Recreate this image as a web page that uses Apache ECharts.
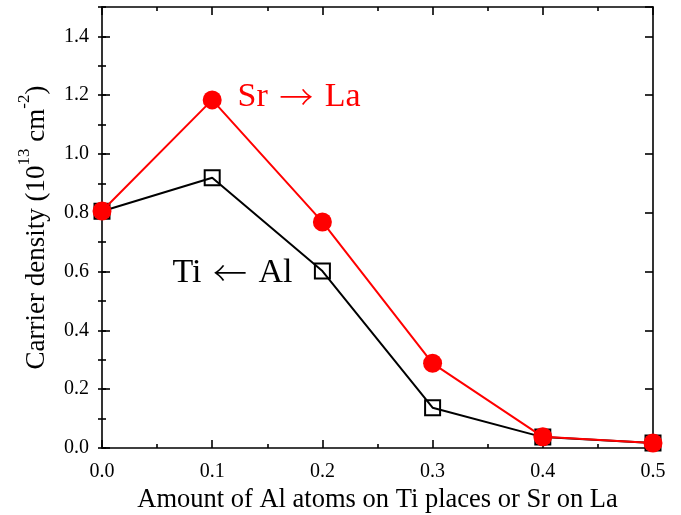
<!DOCTYPE html>
<html>
<head>
<meta charset="utf-8">
<script src="https://cdn.jsdelivr.net/npm/echarts@6/dist/echarts.min.js"></script>
<style>html,body{margin:0;padding:0;background:#fff}#c{width:681px;height:515px}</style>
</head>
<body>
<div id="c"></div>
<script>
const xValues = [0.0, 0.1, 0.2, 0.3, 0.4, 0.5];
const srLaValues = [0.806, 1.184, 0.769, 0.288, 0.038, 0.017];
const tiAlValues = [0.805, 0.919, 0.602, 0.137, 0.037, 0.017];
const srLaParts = ['Sr', '\u2192', 'La'];
const tiAlParts = ['Ti', '\u2190', 'Al'];
const srLaLabelAt = [0.1225, 1.195];
const tiAlLabelAt = [0.0635, 0.595];
const xName = 'Amount of Al atoms on Ti places or Sr on La';

const FONT = "'Times New Roman', 'Liberation Serif', serif";
const ARROW_FONT = "'Noto Sans CJK JP', 'DejaVu Serif', serif";
const chart = echarts.init(document.getElementById('c'));
const pair = (xs, ys) => xs.map((x, i) => [x, ys[i]]);
const lineStyle = {color: '#000', width: 1.6};

const baseX = {
  type: 'value', min: 0, max: 0.5, interval: 0.1,
  axisLine: {show: true, onZero: false, lineStyle: lineStyle},
  axisTick: {show: true, inside: true, length: 8, lineStyle: lineStyle},
  minorTick: {show: true, splitNumber: 2, length: 4, lineStyle: lineStyle},
  splitLine: {show: false}
};
const baseY = {
  type: 'value', min: 0, max: 1.5, interval: 0.2,
  axisLine: {show: true, onZero: false, lineStyle: lineStyle},
  axisTick: {show: true, inside: true, length: 8, lineStyle: lineStyle},
  splitLine: {show: false}
};
function annotLabel(parts, color) {
  return {
    show: true, position: 'right', distance: 0,
    formatter: () => '{t|' + parts[0] + '} {r|' + parts[1] + '} {t|' + parts[2] + '}',
    color: color, fontFamily: FONT, fontSize: 34,
    rich: {
      t: {color: color, fontFamily: FONT, fontSize: 34, lineHeight: 40},
      r: {color: color, fontFamily: ARROW_FONT, fontSize: 34, lineHeight: 40, fontWeight: 300, padding: [0, 3, 0, 3]}
    }
  };
}

chart.setOption({
  animation: false,
  backgroundColor: '#fff',
  grid: {left: 102, right: 28, top: 7, bottom: 67, containLabel: false, outerBoundsMode: 'none'},
  xAxis: [
    Object.assign({}, baseX, {
      position: 'bottom',
      axisLabel: {color: '#000', fontFamily: FONT, fontSize: 20, margin: 14,
        formatter: v => v.toFixed(1)},
      name: xName, nameLocation: 'middle', nameGap: 34,
      nameTextStyle: {color: '#000', fontFamily: FONT, fontSize: 26.5}
    }),
    Object.assign({}, baseX, {position: 'top', axisLabel: {show: false}})
  ],
  yAxis: [
    Object.assign({}, baseY, {
      position: 'left',
      axisLabel: {color: '#000', fontFamily: FONT, fontSize: 20, margin: 13,
        showMaxLabel: false, formatter: v => v.toFixed(1)},
      name: '{a|Carrier density (10}{s|13}{a| cm}{s|-2}{a|)}',
      nameLocation: 'middle', nameGap: 52, nameRotate: 90,
      nameTextStyle: {
        color: '#000', fontFamily: FONT, fontSize: 27,
        rich: {
          a: {color: '#000', fontFamily: FONT, fontSize: 27, lineHeight: 34, verticalAlign: 'bottom'},
          s: {color: '#000', fontFamily: FONT, fontSize: 17, lineHeight: 34, verticalAlign: 'top'}
        }
      }
    }),
    Object.assign({}, baseY, {position: 'right', axisLabel: {show: false}}),
    Object.assign({}, baseY, {position: 'left', interval: 0.1, axisLine: {show: false},
      axisTick: {show: true, inside: true, length: 4, lineStyle: lineStyle}, axisLabel: {show: false}}),
    Object.assign({}, baseY, {position: 'right', interval: 0.1, axisLine: {show: false},
      axisTick: {show: true, inside: true, length: 4, lineStyle: lineStyle}, axisLabel: {show: false}})
  ],
  series: [
    {
      type: 'line', xAxisIndex: 0, yAxisIndex: 0,
      data: pair(xValues, tiAlValues),
      lineStyle: {color: '#000', width: 2},
      symbol: 'rect', symbolSize: 15,
      itemStyle: {color: 'rgba(0,0,0,0)', borderColor: '#000', borderWidth: 2},
      z: 2,
      markPoint: {
        symbol: 'circle', symbolSize: 1, itemStyle: {color: 'rgba(0,0,0,0)'},
        label: annotLabel(tiAlParts, '#000'),
        data: [{coord: tiAlLabelAt}]
      }
    },
    {
      type: 'line', xAxisIndex: 0, yAxisIndex: 0,
      data: pair(xValues, srLaValues),
      lineStyle: {color: '#ff0000', width: 2},
      symbol: 'circle', symbolSize: 19,
      itemStyle: {color: '#ff0000', borderWidth: 0},
      z: 3,
      markPoint: {
        symbol: 'circle', symbolSize: 1, itemStyle: {color: 'rgba(0,0,0,0)'},
        label: annotLabel(srLaParts, '#ff0000'),
        data: [{coord: srLaLabelAt}]
      }
    }
  ]
});
</script>
</body>
</html>
